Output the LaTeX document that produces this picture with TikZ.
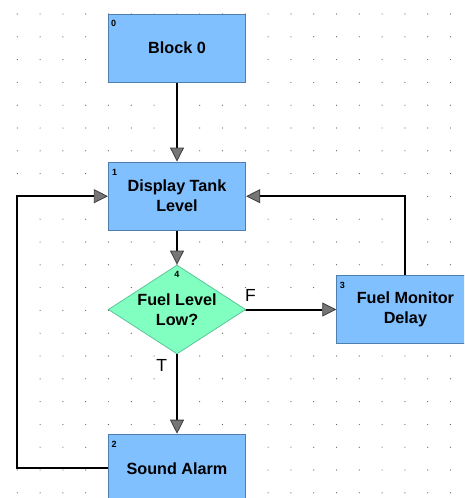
\documentclass[tikz,border=0pt]{standalone}
\usepackage{fontspec}
\setmainfont{Liberation Sans}
\usetikzlibrary{arrows.meta,shapes.geometric}
\definecolor{boxfill}{HTML}{80C0FF}
\definecolor{boxline}{HTML}{4F7FAF}
\definecolor{dfill}{HTML}{80FFC0}
\definecolor{dline}{HTML}{5CC69A}
\definecolor{tipfill}{HTML}{767676}
\definecolor{tipline}{HTML}{3C3C3C}
\definecolor{dotc}{HTML}{606060}
\tikzset{
  blockbox/.style={draw=boxline, fill=boxfill, line width=0.9pt, rectangle,
    minimum width=137.4pt, minimum height=68.3pt, inner sep=0pt, align=center,
    font=\fontsize{16.2}{20}\selectfont\bfseries},
  decbox/.style={draw=dline, fill=dfill, line width=0.8pt, diamond, aspect=1.544,
    minimum width=137.4pt, minimum height=89pt, inner sep=0pt, align=center,
    font=\fontsize{16.2}{20}\selectfont\bfseries},
  numlab/.style={font=\fontsize{9}{9}\selectfont\bfseries, inner sep=0pt},
  conn/.style={line width=2pt, draw=black,
    -{Triangle[length=14pt,width=14pt,fill=tipfill,color=tipline,line width=0.8pt]}},
  branch/.style={font=\fontsize{17.5}{17.5}\selectfont, inner sep=0pt}
}
\begin{document}
\begin{tikzpicture}[x=1pt,y=-1pt]
\useasboundingbox (0,0) rectangle (464,498);
\clip (0,0) rectangle (464,498);
\fill[white] (0,0) rectangle (464,498);
% dot grid
\foreach \i in {0,...,19}{
  \foreach \j in {0,...,21}{
    \fill[dotc] ({17.3+\i*22.8},{14+\j*22.8}) circle[radius=0.6pt];
  }
}
% nodes
\node[blockbox, label={[numlab, anchor=north west, xshift=3pt, yshift=-6.5pt]north west:0}] (b0) at (177,48.2) {Block 0};
\node[blockbox, label={[numlab, anchor=north west, xshift=4pt, yshift=-7.5pt]north west:1}] (b1) at (177,196.2) {Display Tank\\Level};
\node[decbox, label={[numlab, anchor=north, yshift=-7pt]north:4}] (d4) at (177,309.5) {Fuel Level\\Low?};
\node[blockbox, label={[numlab, anchor=north west, xshift=3.5pt, yshift=-7.5pt]north west:3}] (b3) at (405.4,309.5) {Fuel Monitor\\Delay};
\node[blockbox, label={[numlab, anchor=north west, xshift=3.5pt, yshift=-7.5pt]north west:2}] (b2) at (177,468.3) {Sound Alarm};
% branch labels
\node[branch] (lf) at (250.5,295) {F};
\node[branch] (lt) at (161.7,365.5) {T};
% connectors
\coordinate (lc) at (17.3,330);
\draw[conn] (b0.south) -- (b1.north);
\draw[conn] (b1.south) -- (d4.north);
\draw[conn] (d4.south) -- (b2.north);
\draw[conn] (d4.east) -- (b3.west);
\draw[conn] (b3.north) |- (b1.east);
\draw[conn] (b2.west) -- (b2.west -| lc) -- (b1.west -| lc) -- (b1.west);
\end{tikzpicture}
\end{document}
